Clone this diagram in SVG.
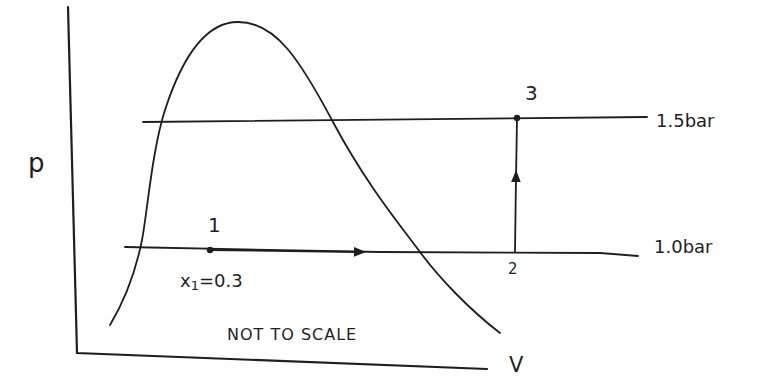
<svg xmlns="http://www.w3.org/2000/svg" width="757" height="379" viewBox="0 0 757 379">
<style>
.ln{fill:none;stroke:#1e1e1e;stroke-width:1.8;stroke-linecap:round}
.ax{fill:none;stroke:#1e1e1e;stroke-width:2.2;stroke-linecap:round}
.t{font-family:"DejaVu Sans","Liberation Sans",sans-serif;fill:#1e1e1e}
.dot{fill:#1e1e1e}
</style>
<defs>
<marker id="ah" viewBox="0 0 10 10" refX="5" refY="5" markerWidth="20" markerHeight="12" markerUnits="userSpaceOnUse" orient="auto">
<path d="M0,1 L10,5 L0,9 Z" fill="#1e1e1e"/>
</marker>
</defs>
<rect width="757" height="379" fill="#ffffff"/>
<g id="axes">
<path class="ax" d="M68,7 L77,353 L487,369"/>
<text class="t" x="28" y="172" font-size="26">p</text>
<text class="t" x="509" y="372" font-size="21">V</text>
</g>
<g id="saturation-dome">
<path class="ln" d="M110,325 C128,295 137,265 142,240 S152,150 165,110 S200,22 238,22 S300,60 333,122 S400,225 420,252 S470,310 500,333"/>
</g>
<g id="isobars">
<path class="ln" d="M143,122 L647,117"/>
<text class="t" x="656" y="127" font-size="18">1.5bar</text>
<path class="ln" d="M125,247 L380,252 L600,253 L638,256"/>
<text class="t" x="654" y="253" font-size="18">1.0bar</text>
</g>
<g id="connectors">
<path class="ln" d="M210,250 L360,252" marker-end="url(#ah)"/>
<path class="ln" d="M515,252 L516,176" marker-end="url(#ah)"/>
<path class="ln" d="M516,180 L517,118"/>
</g>
<g id="state1">
<circle class="dot" cx="210" cy="250" r="3.2"/>
<text class="t" x="208" y="232" font-size="20">1</text>
<text class="t" x="180" y="287" font-size="18">x<tspan font-size="13" dy="3">1</tspan><tspan dy="-3">=0.3</tspan></text>
</g>
<g id="state2">
<text class="t" x="508" y="274" font-size="15">2</text>
</g>
<g id="state3">
<circle class="dot" cx="517" cy="118" r="3.2"/>
<text class="t" x="525" y="100" font-size="20">3</text>
</g>
<g id="note">
<text class="t" x="227" y="340" font-size="16" letter-spacing="1">NOT TO SCALE</text>
</g>
</svg>
